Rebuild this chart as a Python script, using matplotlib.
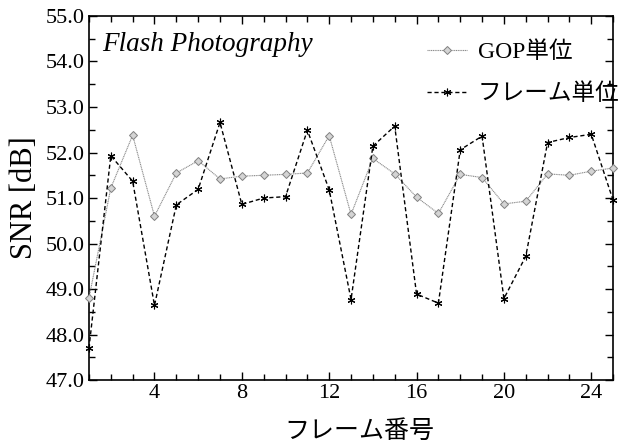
import numpy as np
import matplotlib
matplotlib.use('Agg')
import matplotlib.pyplot as plt
from matplotlib.ticker import MultipleLocator, FormatStrFormatter

plt.rcParams['font.family'] = ['Liberation Serif', 'Noto Sans CJK JP']

frames = np.arange(1, 26)
gop = [48.80, 51.22, 52.38, 50.60, 51.55, 51.82, 51.42, 51.48, 51.50, 51.52,
       51.55, 52.37, 50.64, 51.87, 51.53, 51.02, 50.66, 51.52, 51.45, 50.87,
       50.93, 51.53, 51.50, 51.59, 51.66]
frame = [47.70, 51.93, 51.37, 48.64, 50.85, 51.19, 52.66, 50.86, 51.00, 51.03,
         52.49, 51.18, 48.77, 52.14, 52.58, 48.89, 48.69, 52.06, 52.36, 48.79,
         49.72, 52.22, 52.33, 52.40, 50.95]
labels = ['GOP単位', 'フレーム単位']

fig = plt.figure(figsize=(6.4, 4.44), dpi=100)
ax = fig.add_axes([0.139, 0.144, 0.819, 0.820])

ax.plot(frames, gop, color='#8a8a8a', linestyle=(0, (1, 0.6)), lw=0.8,
        marker='D', markersize=4, markerfacecolor='#d4d4d4',
        markeredgecolor='#808080', markeredgewidth=0.7, label=labels[0],
        clip_on=False, zorder=3)
ax.plot(frames, frame, color='black', linestyle=(0, (3, 2)), lw=1.0,
        marker=(6, 2, 0), markersize=5.5, markeredgewidth=0.8,
        label=labels[1], clip_on=False, zorder=4)

ax.set_xlim(1, 25)
ax.set_ylim(47.0, 55.0)
ax.xaxis.set_major_locator(MultipleLocator(4))
ax.xaxis.set_minor_locator(MultipleLocator(1))
ax.yaxis.set_major_locator(MultipleLocator(1.0))
ax.yaxis.set_minor_locator(MultipleLocator(0.5))
ax.yaxis.set_major_formatter(FormatStrFormatter('%.1f'))
ax.tick_params(which='both', direction='in', top=True, right=True,
               labelsize=16, width=1.0)
ax.tick_params(which='major', length=6, pad=3)
ax.tick_params(which='minor', length=4)
for s in ax.spines.values():
    s.set_linewidth(1.2)

ax.set_xlabel('フレーム番号', fontsize=18)
ax.xaxis.set_label_coords(0.515, -0.11)
ax.set_ylabel('SNR [dB]', fontsize=22, labelpad=5)

ax.text(0.026, 0.956, 'Flash Photography', transform=ax.transAxes,
        fontsize=19.5, fontstyle='italic', va='top', ha='left')

ax.legend(loc='upper left', bbox_to_anchor=(0.645, 0.93), frameon=False,
          fontsize=17, handlelength=1.7, handletextpad=0.45,
          labelspacing=0.85, borderpad=0, borderaxespad=0)

fig.savefig('out.png', dpi=100)
